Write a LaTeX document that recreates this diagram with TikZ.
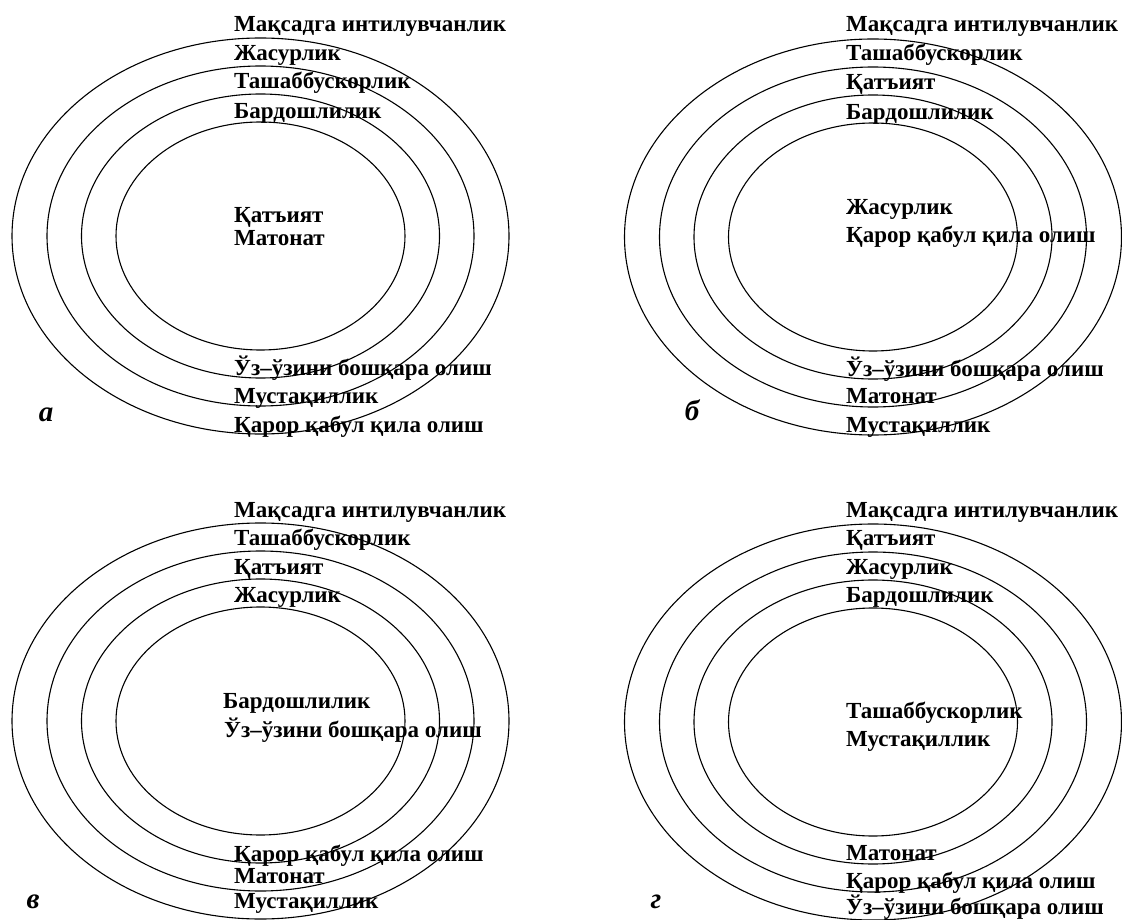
\documentclass[tikz,border=0pt]{standalone}
\usepackage{fontspec}
\setmainfont{Liberation Serif}
\begin{document}
\begin{tikzpicture}[x=1pt,y=-1pt,
  ring/.style={draw=black,line width=1.1pt},
  lbl/.style={anchor=base west,inner sep=0pt,font=\bfseries\fontsize{23}{23}\selectfont},
  tag/.style={anchor=base,inner sep=0pt,font=\bfseries\itshape\fontsize{29}{29}\selectfont}]
\useasboundingbox (0,0) rectangle (1122,920);
% rings
\foreach \cx/\cy in {260.5/236, 873/237, 260.5/721, 873/722}{
  \draw[ring] (\cx,\cy) ellipse [x radius=248.5pt, y radius=198pt];
  \draw[ring] (\cx,\cy) ellipse [x radius=213.5pt, y radius=170pt];
  \draw[ring] (\cx,\cy) ellipse [x radius=179pt, y radius=142pt];
  \draw[ring] (\cx,\cy) ellipse [x radius=144.5pt, y radius=114pt];
}
% panel a
\node[lbl] (a1) at (234,32) {Мақсадга интилувчанлик};
\node[lbl] (a2) at (234,60.5) {Жасурлик};
\node[lbl] (a3) at (234,89) {Ташаббускорлик};
\node[lbl] (a4) at (234,119) {Бардошлилик};
\node[lbl] (a5) at (234,222.5) {Қатъият};
\node[lbl] (a6) at (234,245.5) {Матонат};
\node[lbl] (a7) at (234,375) {Ўз–ўзини бошқара олиш};
\node[lbl] (a8) at (234,403.5) {Мустақиллик};
\node[lbl] (a9) at (234,432) {Қарор қабул қила олиш};
\node[tag] (at) at (46,421) {а};
% panel b
\node[lbl] (b1) at (846,32) {Мақсадга интилувчанлик};
\node[lbl] (b2) at (846,60.5) {Ташаббускорлик};
\node[lbl] (b3) at (846,89.5) {Қатъият};
\node[lbl] (b4) at (846,119.5) {Бардошлилик};
\node[lbl] (b5) at (846,214.5) {Жасурлик};
\node[lbl] (b6) at (846,243) {Қарор қабул қила олиш};
\node[lbl] (b7) at (846,376) {Ўз–ўзини бошқара олиш};
\node[lbl] (b8) at (846,403.5) {Матонат};
\node[lbl] (b9) at (846,432.5) {Мустақиллик};
\node[tag] (bt) at (692,420) {б};
% panel c
\node[lbl] (c1) at (234,517) {Мақсадга интилувчанлик};
\node[lbl] (c2) at (234,545.5) {Ташаббускорлик};
\node[lbl] (c3) at (234,574) {Қатъият};
\node[lbl] (c4) at (234,602.5) {Жасурлик};
\node[lbl] (c5) at (223,708.5) {Бардошлилик};
\node[lbl] (c6) at (224,737) {Ўз–ўзини бошқара олиш};
\node[lbl] (c7) at (234,861) {Қарор қабул қила олиш};
\node[lbl] (c8) at (234,883.5) {Матонат};
\node[lbl] (c9) at (234,908.5) {Мустақиллик};
\node[tag] (ct) at (33,908) {в};
% panel d
\node[lbl] (d1) at (846,517) {Мақсадга интилувчанлик};
\node[lbl] (d2) at (846,545.5) {Қатъият};
\node[lbl] (d3) at (846,574) {Жасурлик};
\node[lbl] (d4) at (846,602.5) {Бардошлилик};
\node[lbl] (d5) at (846,718) {Ташаббускорлик};
\node[lbl] (d6) at (846,746.5) {Мустақиллик};
\node[lbl] (d7) at (846,860) {Матонат};
\node[lbl] (d8) at (846,888.5) {Қарор қабул қила олиш};
\node[lbl] (d9) at (846,914.5) {Ўз–ўзини бошқара олиш};
\node[tag] (dt) at (656,908) {г};
\end{tikzpicture}
\end{document}
